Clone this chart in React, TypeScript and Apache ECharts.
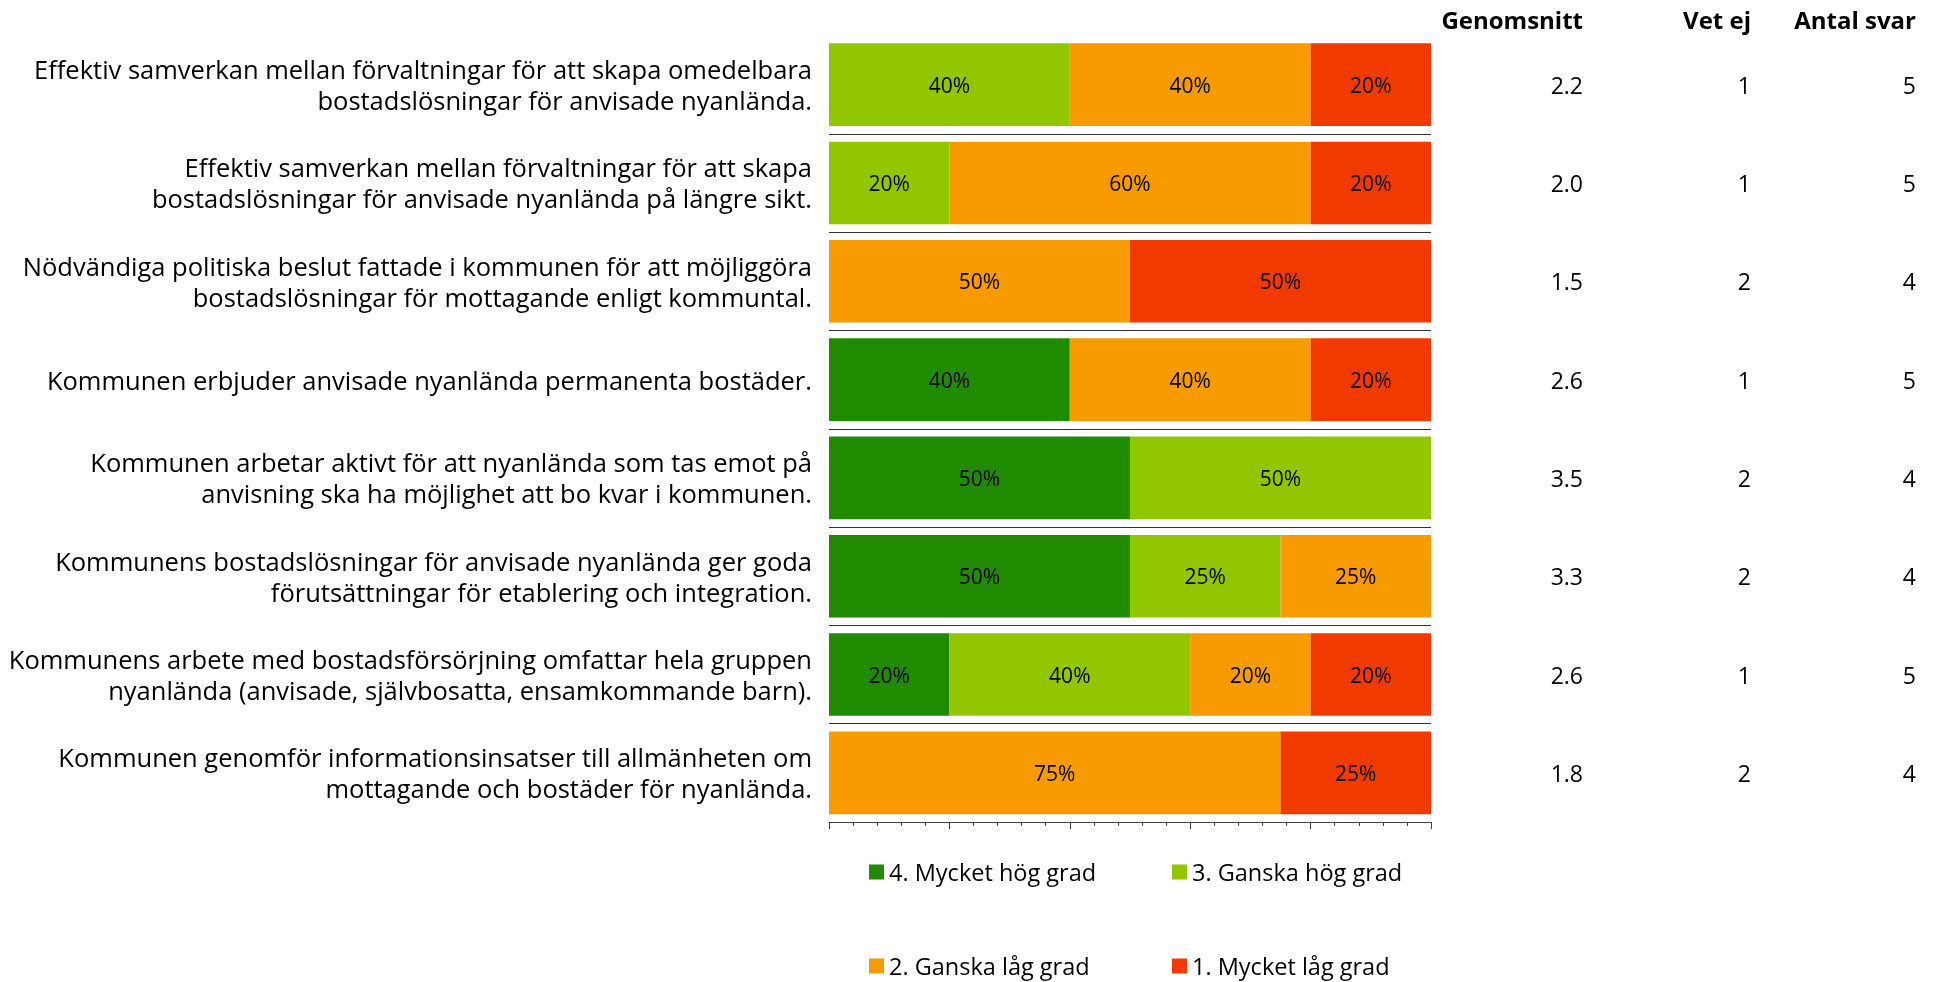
import React, { useEffect, useRef } from "react";
import * as echarts from "echarts";

const categories = [
  "Effektiv samverkan mellan förvaltningar för att skapa omedelbara\nbostadslösningar för anvisade nyanlända.",
  "Effektiv samverkan mellan förvaltningar för att skapa\nbostadslösningar för anvisade nyanlända på längre sikt.",
  "Nödvändiga politiska beslut fattade i kommunen för att möjliggöra\nbostadslösningar för mottagande enligt kommuntal.",
  "Kommunen erbjuder anvisade nyanlända permanenta bostäder.",
  "Kommunen arbetar aktivt för att nyanlända som tas emot på\nanvisning ska ha möjlighet att bo kvar i kommunen.",
  "Kommunens bostadslösningar för anvisade nyanlända ger goda\nförutsättningar för etablering och integration.",
  "Kommunens arbete med bostadsförsörjning omfattar hela gruppen\nnyanlända (anvisade, självbosatta, ensamkommande barn).",
  "Kommunen genomför informationsinsatser till allmänheten om\nmottagande och bostäder för nyanlända.",
];

const seriesNames = [
  "4. Mycket hög grad",
  "3. Ganska hög grad",
  "2. Ganska låg grad",
  "1. Mycket låg grad",
];

const mycketHog = [0, 0, 0, 40, 50, 50, 20, 0];
const ganskaHog = [40, 20, 0, 0, 50, 25, 40, 0];
const ganskaLag = [40, 60, 50, 40, 0, 25, 20, 75];
const mycketLag = [20, 20, 50, 20, 0, 0, 20, 25];

const genomsnitt = [2.2, 2.0, 1.5, 2.6, 3.5, 3.3, 2.6, 1.8];
const vetEj = [1, 1, 2, 1, 2, 2, 1, 2];
const antalSvar = [5, 5, 4, 5, 4, 4, 5, 4];

const columnHeaders = ["Genomsnitt", "Vet ej", "Antal svar"];
const xTicks = { min: 0, max: 100, interval: 20 };

const colors = ["#218B00", "#92C700", "#F89B00", "#F03A00"];
const FONT = "Open Sans";

export default function App() {
  const ref = useRef<HTMLDivElement>(null);

  useEffect(() => {
    if (!ref.current) return;
    const chart = echarts.init(ref.current, undefined, { renderer: "svg" });
    const values = [mycketHog, ganskaHog, ganskaLag, mycketLag];
    const gridLeft = 829;
    const gridRight = 1934 - 1431;

    const colAxis = (
      name: string,
      offset: number,
      fmt: (i: number) => string
    ) => ({
      type: "category",
      data: categories,
      inverse: true,
      position: "right",
      offset,
      name,
      nameLocation: "start",
      nameGap: 16,
      nameTextStyle: {
        fontFamily: FONT,
        fontWeight: "bold",
        fontSize: 24,
        color: "#000",
        align: "right",
        verticalAlign: "middle",
      },
      axisLine: { show: false },
      axisTick: { show: false },
      splitLine: { show: false },
      axisLabel: {
        margin: 0,
        align: "right",
        fontFamily: FONT,
        fontSize: 23,
        color: "#000",
        padding: [6, 0, 0, 0],
        formatter: (_v: string, i: number) => fmt(i),
      },
    });

    chart.setOption({
      animation: false,
      grid: {
        left: gridLeft,
        right: gridRight,
        top: 35.5,
        height: 786.5,
        containLabel: false,
      },
      legend: seriesNames.map((n, i) => ({
        data: [n],
        left: i % 2 === 0 ? 869 : 1172,
        top: i < 2 ? 858 : 952,
        padding: 0,
        itemWidth: 15,
        itemHeight: 15,
        icon: "rect",
        selectedMode: false,
        textStyle: {
          fontFamily: FONT,
          fontSize: 23.5,
          lineHeight: 28,
          color: "#000",
        },
      })),
      xAxis: {
        type: "value",
        min: xTicks.min,
        max: xTicks.max,
        interval: xTicks.interval,
        axisLine: { show: true, lineStyle: { color: "#404040", width: 1 } },
        axisTick: { show: true, length: 7, lineStyle: { color: "#404040" } },
        minorTick: { show: true, splitNumber: 5, length: 4, lineStyle: { color: "#404040" } },
        axisLabel: { show: false },
        splitLine: { show: false },
      },
      yAxis: [
        {
          type: "category",
          data: categories,
          inverse: true,
          axisLine: { show: false },
          axisTick: { show: false },
          splitLine: {
            show: true,
            interval: 0,
            showMinLine: false,
            showMaxLine: false,
            lineStyle: { color: "#333", width: 1 },
          },
          axisLabel: {
            margin: 17,
            align: "right",
            fontFamily: FONT,
            fontSize: 25.5,
            lineHeight: 31,
            color: "#000",
          },
        },
        colAxis(columnHeaders[0], 1583 - 1431, (i) => genomsnitt[i].toFixed(1)),
        colAxis(columnHeaders[1], 1751 - 1431, (i) => String(vetEj[i])),
        colAxis(columnHeaders[2], 1916 - 1431, (i) => String(antalSvar[i])),
      ],
      series: seriesNames.map((n, i) => ({
        name: n,
        type: "bar",
        stack: "total",
        yAxisIndex: 0,
        barCategoryGap: "16%",
        itemStyle: { color: colors[i] },
        label: {
          show: true,
          position: "inside",
          fontFamily: FONT,
          fontSize: 21,
          color: "#000",
          formatter: (p: any) => (p.value ? p.value + "%" : ""),
        },
        data: values[i],
      })),
    });

    return () => chart.dispose();
  }, []);

  return (
    <div
      ref={ref}
      style={{ position: "fixed", left: 0, top: 0, width: 1934, height: 982 }}
    />
  );
}
